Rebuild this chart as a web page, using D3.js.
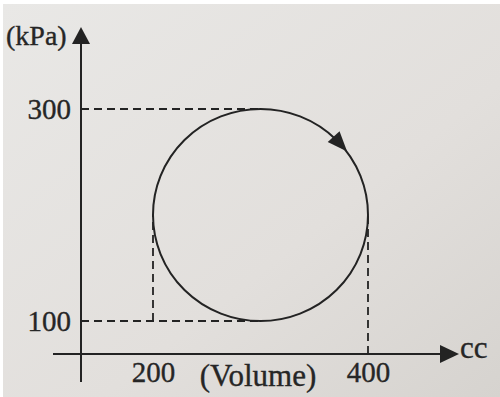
<!DOCTYPE html>
<html>
<head>
<meta charset="utf-8">
<script src="https://cdn.jsdelivr.net/npm/d3@7"></script>
<style>
  html, body { margin: 0; padding: 0; background: #fff; }
  svg { display: block; }
  text { font-family: "Liberation Serif", "DejaVu Serif", serif; fill: #262626; stroke: #262626; stroke-width: 0.35px; }
</style>
</head>
<body>
<div id="chart"></div>
<script>
// values
let volumeTicks = [200, 400];          // cc
let pressureTicks = [100, 300];        // kPa
let cycleCenter = [300, 200];          // (volume, pressure)
let cycleRadius = [100, 100];          // half width, half height
let arrowAt = -42;                     // degrees on the cycle where the arrow sits

let width = 500,
    height = 397;

let x = d3.scaleLinear().domain([200, 400]).range([153, 368]);
let y = d3.scaleLinear().domain([100, 300]).range([321, 109]);

let originX = 81, originY = 354;
let ink = '#232323';

let svg = d3.select('#chart')
    .append('svg')
    .attr('width', width)
    .attr('height', height);

// paper, a bit brighter at top left like the photo
let grad = svg.append('defs').append('linearGradient')
    .attr('id', 'paper')
    .attr('x1', '0').attr('y1', '0').attr('x2', '1').attr('y2', '1');
grad.append('stop').attr('offset', '0%').attr('stop-color', '#e9e8e6');
grad.append('stop').attr('offset', '60%').attr('stop-color', '#e2dfdc');
grad.append('stop').attr('offset', '100%').attr('stop-color', '#d6d3cf');

svg.append('rect')
    .attr('x', 3).attr('y', 4)
    .attr('width', width - 3).attr('height', height - 4)
    .attr('fill', 'url(#paper)');

// axes drawn as plain arrows
svg.append('line')
    .attr('x1', originX).attr('y1', 382)
    .attr('x2', originX).attr('y2', 40)
    .attr('stroke', ink).attr('stroke-width', 2);
svg.append('path')
    .attr('d', 'M' + (originX - 9) + ',44L' + originX + ',27L' + (originX + 9) + ',44Z')
    .attr('fill', ink);

svg.append('line')
    .attr('x1', 53).attr('y1', originY)
    .attr('x2', 445).attr('y2', originY)
    .attr('stroke', ink).attr('stroke-width', 2);
svg.append('path')
    .attr('d', 'M440,' + (originY - 9) + 'L459,' + originY + 'L440,' + (originY + 9) + 'Z')
    .attr('fill', ink);

// tick labels through d3 axes
let yAxis = svg.append('g')
    .attr('transform', 'translate(' + originX + ',0)')
    .call(d3.axisLeft(y).tickValues(pressureTicks).tickSize(0).tickPadding(10));
let xAxis = svg.append('g')
    .attr('transform', 'translate(0,' + originY + ')')
    .call(d3.axisBottom(x).tickValues(volumeTicks).tickSize(0).tickPadding(7));

[yAxis, xAxis].forEach(g => {
    g.select('.domain').remove();
    g.selectAll('text')
        .attr('fill', ink)
        .style('font-family', '"Liberation Serif", serif')
        .style('font-size', '29px');
});
yAxis.selectAll('text').attr('dy', '0.34em');
xAxis.selectAll('text').attr('dy', '0.72em');

svg.append('text')
    .attr('x', 6).attr('y', 45)
    .style('font-size', '28px')
    .text('(kPa)');

svg.append('text')
    .attr('x', 258).attr('y', 386)
    .attr('text-anchor', 'middle')
    .style('font-size', '31px')
    .text('(Volume)');

svg.append('text')
    .attr('x', 460).attr('y', 358)
    .style('font-size', '31px')
    .text('cc');

// dashed guides
let guides = [
    [[null, 300], [cycleCenter[0], 300]],
    [[null, 100], [cycleCenter[0], 100]],
    [[200, 100], [200, cycleCenter[1]]],
    [[400, null], [400, cycleCenter[1]]]
];
svg.selectAll('.guide')
    .data(guides)
    .enter()
    .append('line')
    .attr('class', 'guide')
    .attr('x1', d => d[0][0] === null ? originX : x(d[0][0]))
    .attr('y1', d => d[0][1] === null ? originY : y(d[0][1]))
    .attr('x2', d => x(d[1][0]))
    .attr('y2', d => y(d[1][1]))
    .attr('stroke', ink)
    .attr('stroke-width', 1.8)
    .attr('stroke-dasharray', '8,5');

// the cycle
let cx = x(cycleCenter[0]),
    cy = y(cycleCenter[1]),
    rx = x(cycleCenter[0] + cycleRadius[0]) - cx,
    ry = y(cycleCenter[1] - cycleRadius[1]) - cy;

svg.append('ellipse')
    .attr('cx', cx).attr('cy', cy)
    .attr('rx', rx).attr('ry', ry)
    .attr('fill', 'none')
    .attr('stroke', ink)
    .attr('stroke-width', 2);

// clockwise direction arrow
let a = arrowAt * Math.PI / 180;
let px = cx + rx * Math.cos(a),
    py = cy + ry * Math.sin(a);
let dir = Math.atan2(ry * Math.cos(a), -rx * Math.sin(a)) * 180 / Math.PI;
svg.append('path')
    .attr('d', 'M-10,-8L10,0L-10,8Z')
    .attr('transform', 'translate(' + px + ',' + py + ') rotate(' + dir + ')')
    .attr('fill', ink);
</script>
</body>
</html>
